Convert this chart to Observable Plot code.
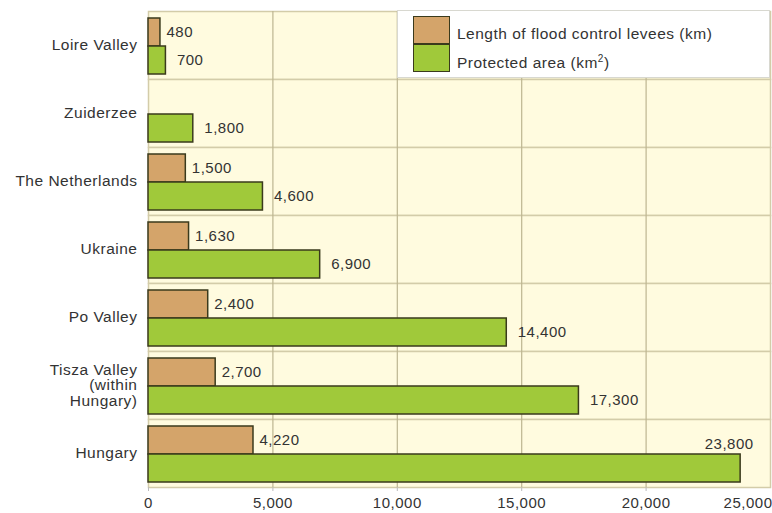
<!DOCTYPE html>
<html>
<head>
<meta charset="utf-8">
<script src="https://cdn.jsdelivr.net/npm/d3@7"></script>
<script src="https://cdn.jsdelivr.net/npm/@observablehq/plot@0.6"></script>
<style>
  html, body { margin: 0; padding: 0; background: #fff; }
  #wrap { position: relative; width: 772px; height: 513px; font-family: "Liberation Sans", Arial, sans-serif; color: #333; }
  #wrap svg text { letter-spacing: 0.5px; }
  #legend { position: absolute; left: 397px; top: 10px; width: 373px; height: 68px; background: #fff; border: 1px solid #d8d8d0; box-sizing: border-box; }
  .sw { position: absolute; left: 15px; width: 37px; height: 28px; border: 1.5px solid #3a3a1c; box-sizing: border-box; }
  .lt { position: absolute; left: 59px; font-size: 15.5px; line-height: 18px; letter-spacing: 0.5px; color: #333; white-space: nowrap; }
</style>
</head>
<body>
<div id="wrap"></div>
<script>
const countries = ["Loire Valley", "Zuiderzee", "The Netherlands", "Ukraine", "Po Valley", "Tisza Valley\n(within\nHungary)", "Hungary"];
const leveeKm = [480, null, 1500, 1630, 2400, 2700, 4220];
const protectedArea = [700, 1800, 4600, 6900, 14400, 17300, 23800];
const seriesKeys = ["levee", "area"];
const seriesNames = ["Length of flood control levees (km)", "Protected area (km²)"];
const seriesColors = ["#d4a46a", "#a0c93a"];
const xTicks = [0, 5000, 10000, 15000, 20000, 25000];

const data = [];
countries.forEach((c, i) => {
  if (leveeKm[i] != null) data.push({country: c, series: "levee", value: leveeKm[i]});
  if (protectedArea[i] != null) data.push({country: c, series: "area", value: protectedArea[i]});
});
const fmt = d3.format(",");
const xMax = xTicks[xTicks.length - 1];
const fitsRight = d => d.value < 0.88 * xMax;

const chart = Plot.plot({
  width: 772,
  height: 513,
  marginLeft: 148,
  marginRight: 2,
  marginTop: 10,
  marginBottom: 26,
  style: {fontFamily: "Liberation Sans, Arial, sans-serif", color: "#333", background: "transparent"},
  x: {domain: [0, xMax], axis: null},
  fy: {domain: countries, padding: 0, axis: null},
  y: {domain: seriesKeys, paddingInner: 0, paddingOuter: 0.2, align: 0.6, axis: null},
  color: {domain: seriesKeys, range: seriesColors},
  marks: [
    Plot.frame({fill: "#fffbdf", stroke: "#d3cca9", strokeWidth: 1.5}),
    Plot.gridX(xTicks.slice(1, -1), {stroke: "#bdb591", strokeOpacity: 1, strokeWidth: 1.2}),
    Plot.barX(data, {fy: "country", y: "series", x: "value", fill: "series", stroke: "#3a3a1c", strokeWidth: 1.5}),
    Plot.text(data.filter(d => d.series === "levee"), {fy: "country", y: "series", x: "value", text: d => fmt(d.value), textAnchor: "start", dx: 6, fontSize: 15, fill: "#333"}),
    Plot.text(data.filter(d => d.series === "area" && fitsRight(d)), {fy: "country", y: "series", x: "value", text: d => fmt(d.value), textAnchor: "start", dx: 11, fontSize: 15, fill: "#333"}),
    Plot.text(data.filter(d => d.series === "area" && !fitsRight(d)), {fy: "country", y: () => "levee", x: "value", text: d => fmt(d.value), textAnchor: "end", dx: 13, dy: 4, fontSize: 15, fill: "#333"}),
    Plot.axisFy({anchor: "left", label: null, tickSize: 0, tickPadding: 11, fontSize: 15.5, lineHeight: 1.0, fill: "#333"}),
    Plot.axisX(xTicks.slice(0, -1), {label: null, tickSize: 4, tickPadding: 6, tickFormat: fmt, fontSize: 15, stroke: "#bbb", fill: "#333"}),
    Plot.axisX(xTicks.slice(-1), {label: null, tickSize: 4, tickPadding: 6, tickFormat: fmt, fontSize: 15, stroke: "#bbb", fill: "#333", textAnchor: "end", dx: 2})
  ]
});

const wrap = document.getElementById("wrap");
wrap.appendChild(chart);
const legend = document.createElement("div");
legend.id = "legend";
seriesKeys.forEach((k, i) => {
  const sw = document.createElement("div");
  sw.className = "sw";
  sw.style.top = (5 + i * 28) + "px";
  sw.style.background = seriesColors[i];
  legend.appendChild(sw);
  const t = document.createElement("div");
  t.className = "lt";
  t.style.top = (14 + i * 29) + "px";
  t.innerHTML = i === 1 ? "Protected area (km<sup style='font-size:10px;line-height:0'>2</sup>)" : seriesNames[i];
  legend.appendChild(t);
});
wrap.appendChild(legend);
</script>
</body>
</html>
